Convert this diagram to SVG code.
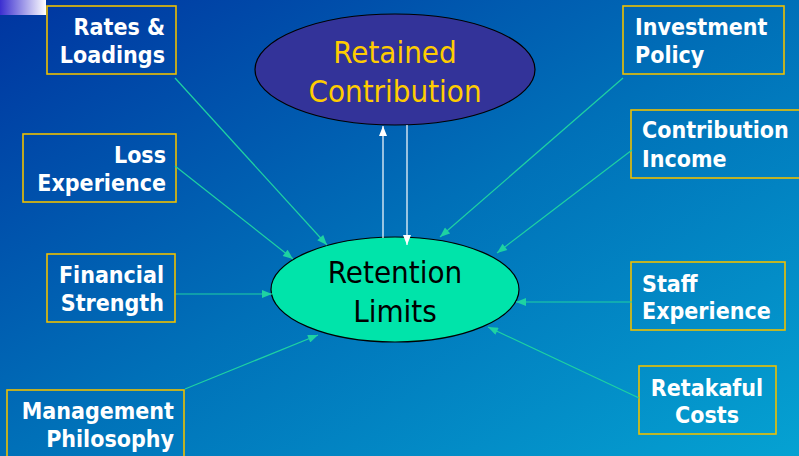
<svg xmlns="http://www.w3.org/2000/svg" width="799" height="456" viewBox="0 0 799 456">
<defs>
<linearGradient id="bg" x1="0" y1="0" x2="1" y2="1">
<stop offset="0" stop-color="#0034A0"/>
<stop offset="0.5" stop-color="#0070B8"/>
<stop offset="1" stop-color="#05A2D2"/>
</linearGradient>
<linearGradient id="corner" x1="0" y1="0" x2="1" y2="0">
<stop offset="0" stop-color="#3A2ED0"/>
<stop offset="1" stop-color="#FFFFFF"/>
</linearGradient>
<marker id="ag" viewBox="0 0 10 8" refX="10" refY="4" markerWidth="11" markerHeight="8" markerUnits="userSpaceOnUse" orient="auto">
<path d="M0,0 L10,4 L0,8 Z" fill="#1ED2A2"/>
</marker>
<marker id="aw" viewBox="0 0 10 8" refX="10" refY="4" markerWidth="10" markerHeight="8" markerUnits="userSpaceOnUse" orient="auto">
<path d="M0,0 L10,4 L0,8 Z" fill="#FFFFFF"/>
</marker>
</defs>
<style>
.box{fill:none;stroke:#EEC000;stroke-width:1.6}
.bt{font-family:"DejaVu Sans Condensed","DejaVu Sans","Liberation Sans",sans-serif;font-stretch:condensed;font-weight:bold;font-size:23px;fill:#FFFFFF}
.et{font-family:"DejaVu Sans Condensed","DejaVu Sans","Liberation Sans",sans-serif;font-stretch:condensed;font-size:31px;text-anchor:middle}
.g{stroke:#1ED2A2;stroke-width:1.2;fill:none;marker-end:url(#ag)}
.w{stroke:#FFFFFF;stroke-width:1.2;fill:none;marker-end:url(#aw)}
</style>
<rect x="0" y="0" width="799" height="456" fill="url(#bg)"/>
<rect x="0" y="0" width="46" height="15" fill="url(#corner)"/>

<g id="retained">
<ellipse cx="395" cy="69.5" rx="140" ry="55.5" fill="#333399" stroke="#000000" stroke-width="1.2"/>
<text class="et" x="395" y="63" fill="#FFCC00">Retained</text>
<text class="et" x="395" y="102" fill="#FFCC00">Contribution</text>
</g>

<g id="retention">
<ellipse cx="395" cy="289.5" rx="124" ry="52.5" fill="#00E4AA" stroke="#000000" stroke-width="1.2"/>
<text class="et" x="395" y="283" fill="#000000">Retention</text>
<text class="et" x="395" y="322" fill="#000000">Limits</text>
</g>

<g id="rates">
<rect class="box" x="47" y="6" width="129" height="68"/>
<text class="bt" x="165" y="35" text-anchor="end">Rates &amp;</text>
<text class="bt" x="165" y="63" text-anchor="end">Loadings</text>
</g>

<g id="loss">
<rect class="box" x="23" y="134" width="153" height="68"/>
<text class="bt" x="166" y="163" text-anchor="end">Loss</text>
<text class="bt" x="166" y="191" text-anchor="end">Experience</text>
</g>

<g id="financial">
<rect class="box" x="47" y="254" width="128" height="68"/>
<text class="bt" x="164" y="283" text-anchor="end">Financial</text>
<text class="bt" x="164" y="311" text-anchor="end">Strength</text>
</g>

<g id="management">
<rect class="box" x="7" y="390" width="177" height="80"/>
<text class="bt" x="174" y="419" text-anchor="end">Management</text>
<text class="bt" x="174" y="447" text-anchor="end">Philosophy</text>
</g>

<g id="investment">
<rect class="box" x="623" y="6" width="161" height="68"/>
<text class="bt" x="635" y="35">Investment</text>
<text class="bt" x="635" y="63">Policy</text>
</g>

<g id="contribution">
<rect class="box" x="631" y="110" width="175" height="68"/>
<text class="bt" x="642" y="138">Contribution</text>
<text class="bt" x="642" y="167">Income</text>
</g>

<g id="staff">
<rect class="box" x="631" y="262" width="154" height="68"/>
<text class="bt" x="642" y="292">Staff</text>
<text class="bt" x="642" y="319">Experience</text>
</g>

<g id="retakaful">
<rect class="box" x="639" y="366" width="137" height="68"/>
<text class="bt" x="707" y="396" text-anchor="middle">Retakaful</text>
<text class="bt" x="707" y="423" text-anchor="middle">Costs</text>
</g>

<g id="connectors">
<line class="g" x1="175" y1="78" x2="327" y2="245"/>
<line class="g" x1="175" y1="166" x2="293" y2="259"/>
<line class="g" x1="176" y1="294" x2="272" y2="294"/>
<line class="g" x1="185" y1="389" x2="318" y2="335"/>
<line class="g" x1="623" y1="78" x2="440" y2="237"/>
<line class="g" x1="632" y1="150" x2="497" y2="253"/>
<line class="g" x1="632" y1="302" x2="516" y2="302"/>
<line class="g" x1="639" y1="398" x2="488" y2="327"/>
<line class="w" x1="383" y1="238" x2="383" y2="126"/>
<line class="w" x1="407" y1="125" x2="407" y2="245"/>
</g>
</svg>
